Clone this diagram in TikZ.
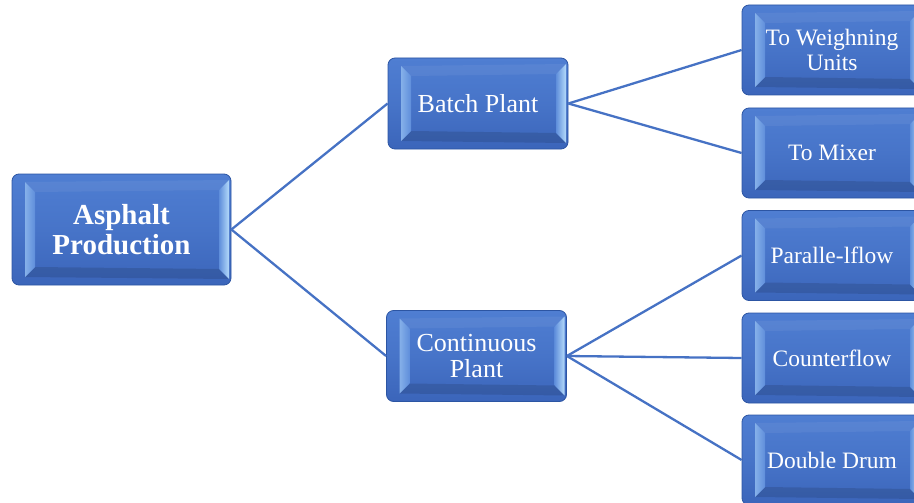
\documentclass[tikz,border=0pt]{standalone}
\usepackage{fontspec}
\setmainfont{Liberation Serif}
\usetikzlibrary{calc}
\definecolor{boxedge}{HTML}{2C55A3}
\definecolor{facetop}{HTML}{4F7ED2}
\definecolor{facebot}{HTML}{3B65BA}
\definecolor{bevelout}{HTML}{B4DAFA}
\definecolor{bevelin}{HTML}{5F8EDB}
\definecolor{linkblue}{HTML}{4672C4}
\tikzset{
  bevelbox/.style={
    rectangle, rounded corners=7pt, draw=boxedge, line width=0.8pt,
    top color=facetop, bottom color=facebot, middle color=facetop!60!facebot,
    text=white, align=center, inner sep=0pt,
    path picture={
      \coordinate (nw) at (path picture bounding box.north west);
      \coordinate (ne) at (path picture bounding box.north east);
      \coordinate (sw) at (path picture bounding box.south west);
      \coordinate (se) at (path picture bounding box.south east);
      % upper bevel facet, slightly lighter
      \fill[sharp corners, white, opacity=0.06]
        ($(nw)+(13,8)$) -- ($(ne)+(-2,6)$) -- ($(ne)+(-12,16)$) -- ($(nw)+(23,18)$) -- cycle;
      % lower bevel facet, slightly darker
      \fill[sharp corners, black, opacity=0.12]
        ($(sw)+(13,-8)$) -- ($(sw)+(23,-18)$) -- ($(se)+(-12,-16)$) -- ($(se)+(-2,-6)$) -- cycle;
      % left bevel facet
      \shade[sharp corners, left color=bevelin!55!bevelout, right color=bevelin]
        ($(nw)+(13,8)$) -- ($(nw)+(23,18)$) -- ($(sw)+(23,-18)$) -- ($(sw)+(13,-8)$) -- cycle;
      % right bevel facet
      \shade[sharp corners, left color=bevelin, right color=bevelout]
        ($(ne)+(-12,16)$) -- ($(ne)+(-2,6)$) -- ($(se)+(-2,-6)$) -- ($(se)+(-12,-16)$) -- cycle;
    }},
  rootbox/.style={bevelbox, minimum width=219pt, minimum height=111pt,
    font=\fontsize{29}{30}\selectfont\bfseries},
  midbox/.style={bevelbox, minimum width=180pt, minimum height=91pt,
    font=\fontsize{26}{26}\selectfont},
  leafbox/.style={bevelbox, minimum width=180pt, minimum height=90pt,
    font=\fontsize{23.5}{25}\selectfont},
  link/.style={draw=linkblue, line width=2.3pt}
}
\begin{document}
\begin{tikzpicture}[x=1pt, y=-1pt]
\useasboundingbox (0,0) rectangle (914,503);

\node[rootbox] (root) at (121.5,229.5) {Asphalt\\Production};

\node[midbox] (batch) at (478,103.5) {Batch Plant};
\node[midbox] (cont)  at (476.5,356) {Continuous\\Plant};

\node[leafbox] (weigh)   at (832,50)    {To Weighning\\Units};
\node[leafbox] (mixer)   at (832,153)   {To Mixer};
\node[leafbox] (para)    at (832,255.5) {Paralle-lflow};
\node[leafbox] (counter) at (832,358)   {Counterflow};
\node[leafbox] (double)  at (832,460)   {Double Drum};

\draw[link] (root.east) -- (batch.west);
\draw[link] (root.east) -- (cont.west);
\draw[link] (batch.east) -- (weigh.west);
\draw[link] (batch.east) -- (mixer.west);
\draw[link] (cont.east) -- (para.west);
\draw[link] (cont.east) -- (counter.west);
\draw[link] (cont.east) -- (double.west);
\end{tikzpicture}
\end{document}
